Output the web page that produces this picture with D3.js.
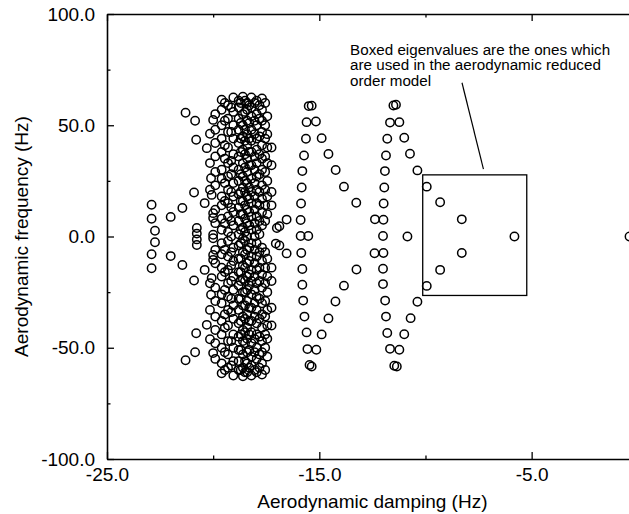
<!DOCTYPE html>
<html><head><meta charset="utf-8">
<script src="https://cdn.jsdelivr.net/npm/d3@7"></script>
<style>
body{margin:0;background:#fff}
svg{display:block}
text{font-family:"Liberation Sans",Arial,Helvetica,sans-serif;fill:#000}
</style>
</head><body>
<svg id="chart" width="629" height="514"></svg>
<script>
// ---- axis ticks ----
const xMajorTicks = [-25, -15, -5];
const xMinorTicks = [-20, -10, 0];
const yMajorTicks = [-100, -50, 0, 50, 100];
const yMinorTicks = [-75, -25, 25, 75];
const xTitle = "Aerodynamic damping (Hz)";
const yTitle = "Aerodynamic frequency (Hz)";
const noteLines = ["Boxed eigenvalues are the ones which", "are used in the aerodynamic reduced", "order model"];

// ---- eigenvalues: [damping, frequency] ----
const leftArc = [
  [-22.9, 14.3], [-22.9, 8.0], [-22.74, 2.6], [-22.74, -2.6], [-22.9, -8.0], [-22.9, -14.3],
  [-22.0, 8.8], [-22.0, -8.8], [-21.45, 12.8], [-21.45, -12.8], [-20.9, 19.8], [-20.9, -19.8],
  [-20.8, 43.5], [-20.8, -43.5], [-20.85, 52.0], [-20.85, -52.0], [-21.3, 55.6], [-21.3, -55.6],
  [-20.77, 3.8], [-20.77, 1.3], [-20.77, -1.3], [-20.77, -3.8]
];
const cloudEdge = [
  [-20.0, 52.4], [-20.15, 46.2], [-20.3, 39.7], [-20.15, 33.0], [-20.1, 26.2], [-20.15, 21.0], [-20.07, 18.7],
  [-20.4, 15.0], [-20.0, 10.5], [-20.0, 8.3], [-20.0, 0.8],
  [-20.0, -52.4], [-20.15, -46.2], [-20.3, -39.7], [-20.15, -33.0], [-20.1, -26.2], [-20.15, -21.0], [-20.07, -18.7],
  [-20.4, -15.0], [-20.0, -10.5], [-20.0, -8.3], [-20.0, -0.8],
  [-16.54, 7.6], [-16.54, -7.6], [-16.88, 4.6], [-16.88, -4.0], [-17.0, 3.8], [-17.05, -3.2]
];
const cloudDamping = [-19.9, -19.6, -19.45, -19.3, -19.15, -19.05, -18.8, -18.7, -18.6, -18.5, -18.4, -18.3,
  -18.2, -18.05, -17.95, -17.82, -17.7, -17.55, -17.45, -17.25];
const cloudFreqs = [
  [55, 48, 42, 36, 29, 23, 12, 6, -6, -12, -23, -29, -36, -42, -48, -55],
  [61.5, 57, 50, 44, 38, 30, 26, 18, 14, 8, 3, -3, -8, -14, -18, -26, -30, -38, -44, -50, -57, -61.5],
  [60, 52, 41, 35, 24, 16, 6, -6, -16, -24, -35, -41, -52, -60],
  [59, 53, 47, 40, 33, 27, 21, 15, 9, 2, -2, -9, -15, -21, -27, -33, -40, -47, -53, -59],
  [58, 47, 34, 28, 20, 13, 7, 0, -7, -13, -20, -28, -34, -47, -58],
  [62.5, 56, 50, 44, 37, 31, 24, 18, 11, 5, -5, -11, -18, -24, -31, -37, -44, -50, -56, -62.5],
  [61, 58, 53, 48, 42, 36, 30, 25, 19, 13, 7, 1, -4, -10, -16, -22, -28, -33, -39, -45, -51, -56, -60],
  [60, 51, 44, 38, 28, 20, 16, 10, 3, -3, -10, -16, -20, -28, -38, -44, -51, -60],
  [62.8, 55, 50, 45, 39, 33, 27, 22, 16, 10, 4, -1, -7, -13, -19, -25, -31, -36, -42, -47, -53, -59, -62.8],
  [61, 56, 48, 43, 37, 31, 25, 20, 14, 8, 2, -2, -8, -14, -20, -25, -31, -37, -43, -48, -56, -61],
  [60, 57, 52, 46, 41, 35, 29, 24, 18, 12, 6, 0, -6, -12, -18, -24, -29, -35, -41, -46, -52, -57, -61],
  [59, 51, 44, 38, 32, 22, 17, 11, 5, -5, -11, -17, -22, -32, -38, -44, -51, -59],
  [62.5, 58, 54, 48, 43, 38, 32, 26, 20, 15, 9, 3, -3, -9, -15, -20, -26, -32, -38, -43, -48, -54, -58, -62.5],
  [60, 52, 46, 36, 30, 24, 18, 12, 6, 0, -6, -12, -18, -24, -30, -36, -46, -52, -60],
  [61, 55, 50, 44, 39, 33, 27, 21, 15, 9, 3, -3, -9, -15, -21, -27, -33, -39, -44, -50, -55, -61],
  [59, 53, 45, 37, 28, 20, 14, 7, 1, -7, -14, -20, -28, -37, -45, -53, -59],
  [62, 57, 52, 47, 41, 35, 30, 23, 17, 11, 5, -5, -11, -17, -23, -30, -35, -41, -47, -52, -57, -62],
  [60, 50, 44, 36, 29, 21, 14, 7, -7, -14, -21, -29, -36, -44, -50, -60],
  [54, 46, 40, 33, 25, 18, 10, -10, -18, -25, -33, -40, -46, -54],
  [40, 32, 20, 14, -14, -20, -32, -40]
];
const family1 = [
  [-15.5, 58.6], [-15.36, 58.8], [-15.6, 51.4], [-15.63, 43.9], [-15.72, 36.4], [-15.8, 29.4], [-15.83, 22.0],
  [-15.86, 14.8], [-15.88, 7.4], [-15.88, 0.2], [-15.52, 0.2],
  [-15.85, -7.4], [-15.8, -14.6], [-15.8, -21.7], [-15.76, -28.8], [-15.7, -36.0], [-15.6, -43.1],
  [-15.56, -50.6], [-15.46, -57.7], [-15.36, -58.4],
  [-15.16, 51.7], [-14.89, 44.2], [-14.57, 37.1], [-14.23, 29.9], [-13.84, 22.4], [-13.26, 15.2],
  [-15.14, -50.9], [-14.89, -44.0], [-14.57, -36.8], [-14.24, -29.2], [-13.84, -22.1], [-13.25, -14.8],
  [-12.38, 7.7], [-12.4, -7.5], [-10.85, 0]
];
const family2 = [
  [-11.51, 58.9], [-11.39, 59.2], [-11.67, 51.2], [-11.8, 43.9], [-11.86, 36.4], [-11.91, 29.4], [-11.94, 22.0],
  [-11.97, 14.8], [-11.98, 7.5], [-12.0, 0.2], [-11.98, -7.4], [-12.0, -14.5], [-12.0, -21.4], [-11.9, -28.8],
  [-11.86, -36.0], [-11.8, -43.4], [-11.67, -50.5], [-11.47, -58.1], [-11.35, -58.4],
  [-11.23, 51.4], [-11.0, 44.4], [-10.73, 37.2], [-10.38, 29.7],
  [-11.23, -50.9], [-11.0, -43.9], [-10.7, -36.7], [-10.38, -29.3]
];
const boxed = [
  [-9.94, 22.4], [-9.31, 15.4], [-8.29, 7.7], [-5.81, 0], [-8.29, -7.4], [-9.31, -15.0], [-9.94, -22.2]
];
const farRight = [[-0.39, 0]];

// annotation box and leader, in data units
const boxDamping = [-10.13, -5.23];
const boxFreq = [-26.5, 27.7];
const leaderDamping = [-8.28, -7.27];
const leaderFreq = [69.1, 30.3];
const noteAt = [-13.55, 81.7];

// ---- drawing ----
const svg = d3.select("#chart");
const x = d3.scaleLinear().domain([-25, 0]).range([107, 637.8]);
const y = d3.scaleLinear().domain([-100, 100]).range([459, 14]);
const fmt = d => d.toFixed(1);

function styleAxis(g, labels) {
  g.select(".domain").attr("stroke", "#000").attr("stroke-width", 1.6);
  g.selectAll(".tick line").attr("stroke", "#000").attr("stroke-width", 1.3);
  g.selectAll(".tick text").attr("font-size", 19).attr("fill", "#000")
    .attr("font-family", '"Liberation Sans",Arial,sans-serif');
  if (!labels) g.selectAll(".tick text").remove();
}

// bottom
svg.append("g").attr("transform", `translate(0,${y(-100)})`)
  .call(d3.axisBottom(x).tickValues(xMajorTicks).tickSize(-7).tickSizeOuter(0).tickPadding(9).tickFormat(fmt))
  .call(g => styleAxis(g, true));
svg.append("g").attr("transform", `translate(0,${y(-100)})`)
  .call(d3.axisBottom(x).tickValues(xMinorTicks).tickSize(-3.5).tickSizeOuter(0).tickFormat(""))
  .call(g => { styleAxis(g, false); g.select(".domain").remove(); });
// top
svg.append("g").attr("transform", `translate(0,${y(100)})`)
  .call(d3.axisTop(x).tickValues(xMajorTicks).tickSize(-7).tickSizeOuter(0).tickFormat(""))
  .call(g => styleAxis(g, false));
svg.append("g").attr("transform", `translate(0,${y(100)})`)
  .call(d3.axisTop(x).tickValues(xMinorTicks).tickSize(-3.5).tickSizeOuter(0).tickFormat(""))
  .call(g => { styleAxis(g, false); g.select(".domain").remove(); });
// left
svg.append("g").attr("transform", `translate(${x(-25)},0)`)
  .call(d3.axisLeft(y).tickValues(yMajorTicks).tickSize(-7).tickSizeOuter(0).tickPadding(12).tickFormat(fmt))
  .call(g => styleAxis(g, true));
svg.append("g").attr("transform", `translate(${x(-25)},0)`)
  .call(d3.axisLeft(y).tickValues(yMinorTicks).tickSize(-3.5).tickSizeOuter(0).tickFormat(""))
  .call(g => { styleAxis(g, false); g.select(".domain").remove(); });

// titles
svg.append("text").attr("x", (x(-25) + x(0)) / 2).attr("y", 508)
  .attr("text-anchor", "middle").attr("font-size", 19).text(xTitle);
svg.append("text").attr("transform", `translate(28,${y(0)}) rotate(-90)`)
  .attr("text-anchor", "middle").attr("font-size", 19).text(yTitle);

// points
const allPts = [];
leftArc.forEach(p => allPts.push(p));
cloudEdge.forEach(p => allPts.push(p));
cloudDamping.forEach((d, i) => cloudFreqs[i].forEach(f => allPts.push([d, f])));
family1.forEach(p => allPts.push(p));
family2.forEach(p => allPts.push(p));
boxed.forEach(p => allPts.push(p));
farRight.forEach(p => allPts.push(p));

svg.append("g").selectAll("circle").data(allPts).join("circle")
  .attr("cx", d => x(d[0])).attr("cy", d => y(d[1])).attr("r", 4.2)
  .attr("fill", "none").attr("stroke", "#000").attr("stroke-width", 1.5);

// box
svg.append("rect")
  .attr("x", x(boxDamping[0])).attr("y", y(boxFreq[1]))
  .attr("width", x(boxDamping[1]) - x(boxDamping[0]))
  .attr("height", y(boxFreq[0]) - y(boxFreq[1]))
  .attr("fill", "none").attr("stroke", "#000").attr("stroke-width", 1.3);
svg.append("line")
  .attr("x1", x(leaderDamping[0])).attr("y1", y(leaderFreq[0]))
  .attr("x2", x(leaderDamping[1])).attr("y2", y(leaderFreq[1]))
  .attr("stroke", "#000").attr("stroke-width", 1.2);
const note = svg.append("text").attr("x", x(noteAt[0])).attr("y", y(noteAt[1])).attr("font-size", 15.2);
noteLines.forEach((t, i) => note.append("tspan").attr("x", x(noteAt[0])).attr("dy", i === 0 ? 0 : 15.5).text(t));
</script>
</body></html>
